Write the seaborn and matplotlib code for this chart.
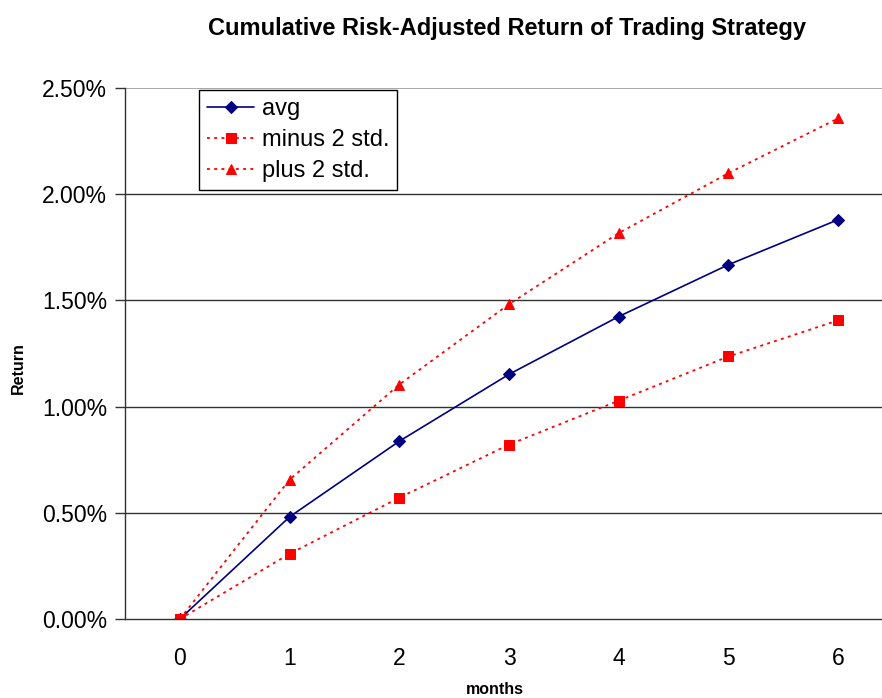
import matplotlib
matplotlib.use("Agg")
import matplotlib.pyplot as plt
import seaborn as sns
import pandas as pd
from matplotlib.ticker import FuncFormatter, FixedLocator

# Cumulative return in percent, by month
months = [0, 1, 2, 3, 4, 5, 6]
avg = [0.0, 0.481, 0.837, 1.152, 1.424, 1.668, 1.880]
minus_2std = [0.0, 0.307, 0.571, 0.821, 1.028, 1.236, 1.406]
plus_2std = [0.0, 0.656, 1.104, 1.482, 1.817, 2.099, 2.357]
y_ticks = [0.0, 0.5, 1.0, 1.5, 2.0, 2.5]

sns.set_theme(style="white")
plt.rcParams["font.family"] = ["Liberation Sans", "DejaVu Sans"]
plt.rcParams.update({"text.color": "black", "axes.labelcolor": "black",
                     "xtick.color": "black", "ytick.color": "black"})

fig = plt.figure(figsize=(8.82, 6.98), dpi=100)
ax = fig.add_axes([125 / 882, 79 / 698, 768 / 882, 531 / 698])

df = pd.DataFrame({"months": months, "avg": avg,
                   "minus 2 std.": minus_2std, "plus 2 std.": plus_2std})

navy = "#000080"
red = "#ff0000"
dotted = (0, (1.6, 2.4))

sns.lineplot(data=df, x="months", y="avg", ax=ax, color=navy, lw=1.2,
             marker="D", markersize=6, markeredgecolor=navy, label="avg")
sns.lineplot(data=df, x="months", y="minus 2 std.", ax=ax, color=red, lw=1.3,
             linestyle=dotted, marker="s", markersize=7, markeredgecolor=red,
             label="minus 2 std.")
sns.lineplot(data=df, x="months", y="plus 2 std.", ax=ax, color=red, lw=1.3,
             linestyle=dotted, marker="^", markersize=7, markeredgecolor=red,
             label="plus 2 std.")

ax.set_xlim(-0.5, 6.5)
ax.set_ylim(0, 2.5)
ax.set_xticks(months)
ax.yaxis.set_major_locator(FixedLocator(y_ticks))
ax.yaxis.set_major_formatter(FuncFormatter(lambda v, p: f"{v:.2f}%"))

# horizontal gridlines
for v in y_ticks[1:-1]:
    ax.axhline(v, color="#333333", lw=1.0, zorder=0)
ax.axhline(2.5, color="#999999", lw=1.2, zorder=0)

for side in ["top", "right"]:
    ax.spines[side].set_visible(False)
ax.spines["left"].set_color("#333333")
ax.spines["bottom"].set_color("#333333")
ax.spines["left"].set_linewidth(1.0)
ax.spines["bottom"].set_linewidth(1.0)

ax.tick_params(axis="y", which="major", left=True, length=7, width=1.0,
               color="#333333", labelsize=16.5, pad=6, labelcolor="black")
ax.tick_params(axis="x", which="major", bottom=False, labelsize=16.5,
               pad=14, labelcolor="black")

ax.set_xlabel("months", fontsize=11.5, fontweight="bold")
ax.set_ylabel("Return", fontsize=11.5, fontweight="bold")
ax.xaxis.set_label_coords((495 - 125) / 768, (619 - 689) / 531)
ax.xaxis.label.set_va("center")
ax.yaxis.set_label_coords((18 - 125) / 768, (619 - 368) / 531)
ax.yaxis.label.set_va("center")

fig.text(507 / 882, 1 - 28 / 698, "Cumulative Risk-Adjusted Return of Trading Strategy",
         ha="center", va="center", fontsize=17, fontweight="bold")

leg = ax.legend(loc="upper left", bbox_to_anchor=((199 - 125) / 768, (619 - 90) / 531),
                frameon=True, fancybox=False, fontsize=17, handlelength=2.0,
                borderpad=0.35, labelspacing=0.38, handletextpad=0.3,
                borderaxespad=0)
leg.get_frame().set_edgecolor("black")
leg.get_frame().set_linewidth(1.0)
leg.get_frame().set_facecolor("white")
leg.get_frame().set_alpha(1)

fig.savefig("out.png", dpi=100)
